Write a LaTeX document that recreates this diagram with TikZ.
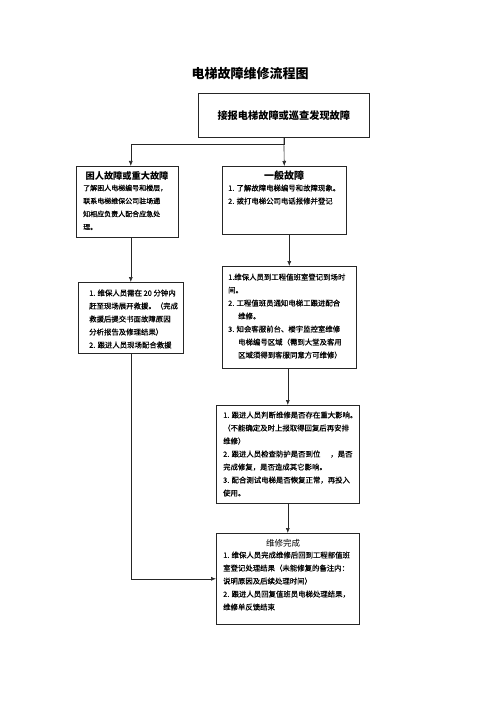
\documentclass[tikz,border=0pt]{standalone}
\usepackage{fontspec}
\newfontfamily\cjk{Noto Sans CJK SC}
\newfontfamily\cjkbody[FakeBold=0.6]{Noto Sans CJK SC}
\usetikzlibrary{arrows.meta}

\begin{document}
\begin{tikzpicture}[x=1pt,y=-1pt,
  box/.style={draw=black!85, line width=0.6pt, inner sep=0pt, anchor=north west},
  txt/.style={anchor=north west, inner sep=0pt, align=left, font=\cjkbody\fontsize{7.4}{13}\selectfont},
  head/.style={inner sep=0pt, font=\cjk\bfseries\fontsize{9.2}{11}\selectfont},
  link/.style={draw=black!85, line width=0.6pt, -{Latex[length=5pt,width=4pt]}}]
\useasboundingbox[fill=white] (0,0) rectangle (500,708);

\node[font=\cjk\bfseries\fontsize{13}{15}\selectfont] (title) at (250,74) {电梯故障维修流程图};

\node[box, minimum width=171pt, minimum height=44pt, font=\cjk\bfseries\fontsize{10.2}{12}\selectfont] (report) at (198,93) {接报电梯故障或巡查发现故障};

% left column
\node[box, minimum width=102pt, minimum height=71pt] (trap) at (76,166) {};
\node[head] at (127,176) {困人故障或重大故障};
\node[txt, font=\cjkbody\fontsize{7}{13}\selectfont] at (83,184.5) {了解困人电梯编号和楼层，\\联系电梯维保公司驻场通\\知相应负责人配合应急处\\理。};

\node[box, minimum width=105pt, minimum height=71pt] (rescue) at (78,282) {};
\node[txt] at (89,289.4) {1. 维保人员需在 20 分钟内\\赶至现场展开救援。（完成\\救援后提交书面故障原因\\分析报告及修理结果）\\2. 跟进人员现场配合救援};

% right column
\node[box, minimum width=124pt, minimum height=68pt] (general) at (222,166) {};
\node[head, font=\cjk\bfseries\fontsize{10}{12}\selectfont] at (284,176) {一般故障};
\node[txt] at (228,184.4) {1. 了解故障电梯编号和故障现象。\\2. 拨打电梯公司电话报修并登记};

\node[box, minimum width=134pt, minimum height=102pt] (register) at (222,266) {};
\node[txt] at (228,273.4) {1.维保人员到工程值班室登记到场时\\间。\\2. 工程值班员通知电梯工跟进配合\\\hspace*{10pt}维修。\\3. 知会客服前台、楼宇监控室维修\\\hspace*{10pt}电梯编号区域（需到大堂及客用\\\hspace*{10pt}区域须得到客服同意方可维修）};

\node[box, minimum width=143pt, minimum height=98pt] (check) at (216,405) {};
\node[txt] at (223,411.4) {1. 跟进人员判断维修是否存在重大影响。\\（不能确定及时上报取得回复后再安排\\维修）\\2. 跟进人员检查防护是否到位\hspace*{10pt}，是否\\完成修复，是否造成其它影响。\\3. 配合测试电梯是否恢复正常，再投入\\使用。};

\node[box, minimum width=143pt, minimum height=91pt] (done) at (216,533) {};
\node[head, font=\cjk\fontsize{8.5}{10}\selectfont] at (283,543) {维修完成};
\node[txt] at (223,551.4) {1. 维保人员完成维修后回到工程部值班\\室登记处理结果（未能修复的备注内：\\说明原因及后续处理时间）\\2. 跟进人员回复值班员电梯处理结果，\\维修单反馈结束};

% connectors
\draw[link] (report.south) -- ++(0,7) -| (trap.north -| rescue.north);
\draw[link] (report.south) -- (general.north);
\draw[link] (trap.south -| rescue.north) -- (rescue.north);
\draw[link] (rescue.south) |- (done.west);
\draw[link] (general.south -| register.north) -- (register.north);
\draw[link] (register.south -| check.north) -- (check.north);
\draw[link] (check.south) -- (done.north);
\end{tikzpicture}
\end{document}
